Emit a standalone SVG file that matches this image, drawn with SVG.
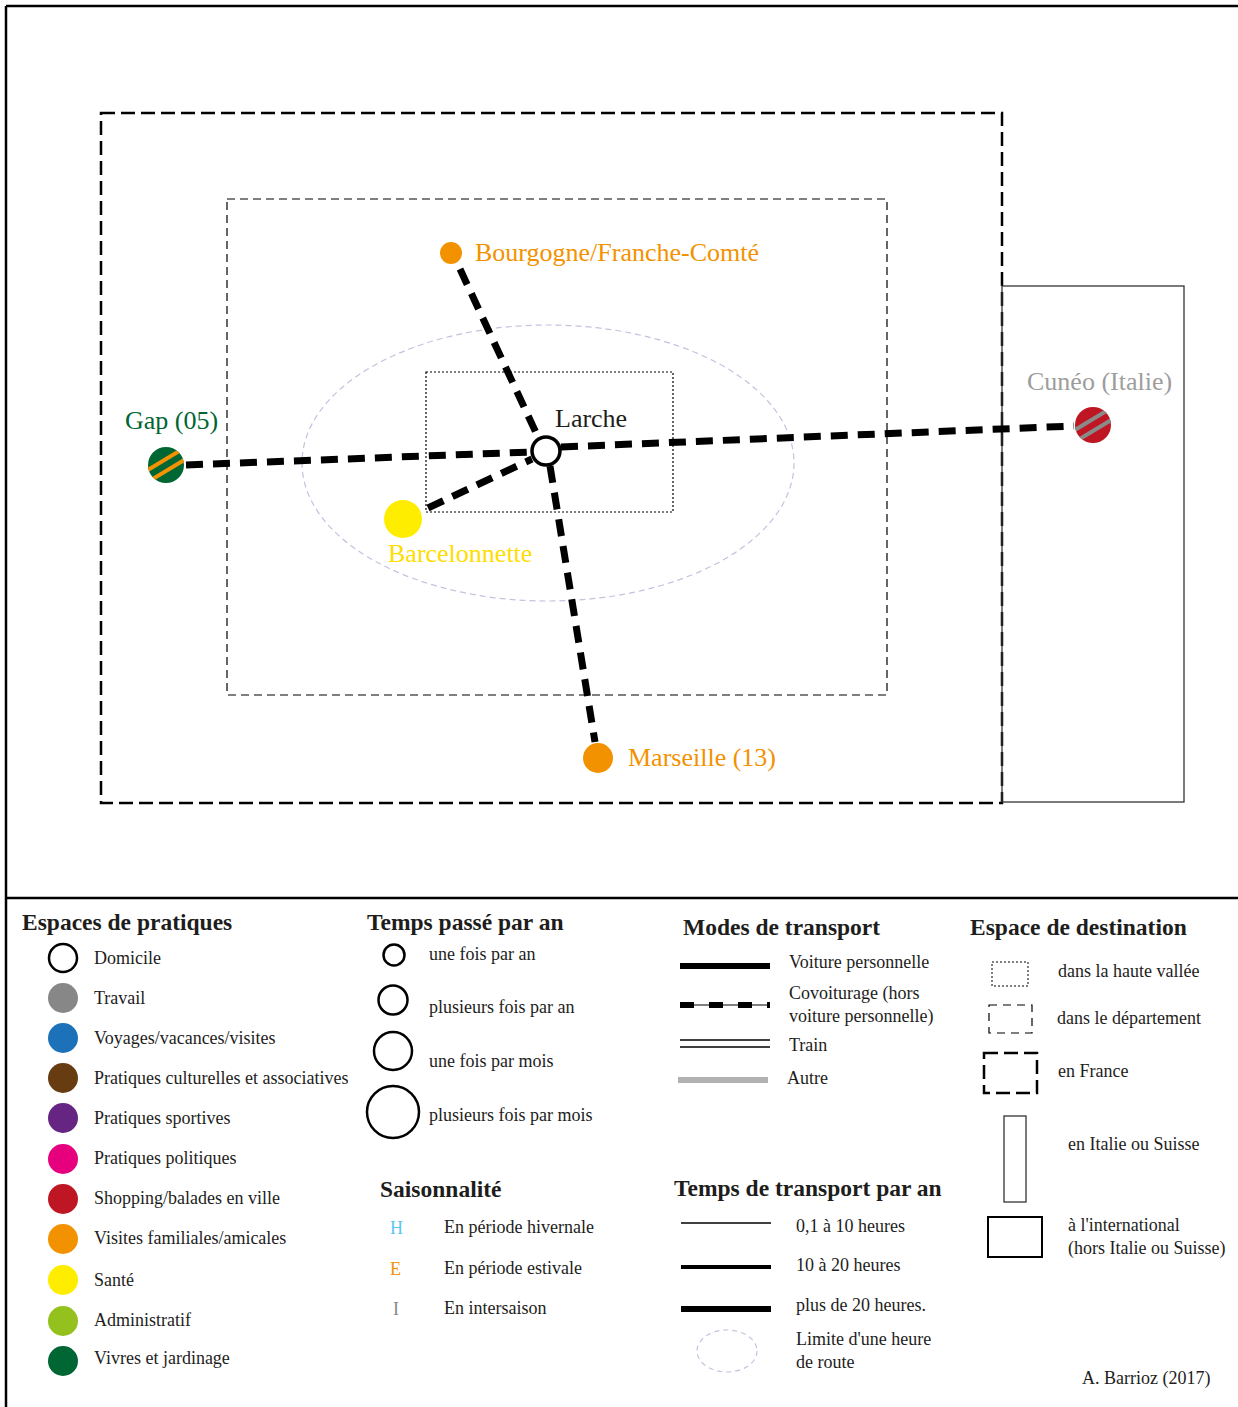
<svg xmlns="http://www.w3.org/2000/svg" width="1238" height="1407" viewBox="0 0 1238 1407">
<style>
text{font-family:"Liberation Serif","Times New Roman",serif;fill:#1d1d1b}
.lbl{font-size:26px}
.lg{font-size:18px}
.h{font-size:23.5px;font-weight:bold}
.conn{stroke:#000;stroke-width:7;stroke-dasharray:17 10;fill:none}
</style>
<defs>
<clipPath id="cGap"><circle cx="166" cy="465" r="18"/></clipPath>
<clipPath id="cCun"><circle cx="1093" cy="425" r="18"/></clipPath>
</defs>
<rect width="1238" height="1407" fill="#fff"/>
<g id="frame" stroke="#000" stroke-width="2.5" fill="none">
<line x1="6" y1="1407" x2="6" y2="6"/>
<line x1="6" y1="6" x2="1238" y2="6"/>
<line x1="6" y1="898" x2="1238" y2="898"/>
</g>
<g id="zones" fill="none">
<rect id="zone-france" x="101" y="113" width="901" height="690" stroke="#000" stroke-width="2.5" stroke-dasharray="14 6"/>
<rect id="zone-departement" x="227" y="199" width="660" height="496" stroke="#000" stroke-width="1.2" stroke-dasharray="8 5"/>
<rect id="zone-vallee" x="426" y="372" width="247" height="140" stroke="#000" stroke-width="1.2" stroke-dasharray="2 2"/>
<rect id="zone-italie" x="1002" y="286" width="182" height="516" stroke="#333" stroke-width="1.3"/>
<ellipse id="limite-heure" cx="548" cy="463" rx="246" ry="138" stroke="#c4c2df" stroke-width="1.2" stroke-dasharray="6 4"/>
</g>
<g id="connectors">
<line class="conn" x1="186" y1="465" x2="531" y2="452"/>
<line class="conn" x1="561" y1="447" x2="1074" y2="426"/>
<line class="conn" x1="460" y1="269" x2="538" y2="437"/>
<line class="conn" x1="428" y1="508" x2="532" y2="459"/>
<line class="conn" x1="550" y1="466" x2="595" y2="742"/>
</g>
<g id="node-larche">
<circle cx="546" cy="451" r="14" fill="#fff" stroke="#000" stroke-width="3.5"/>
<text class="lbl" x="555" y="427">Larche</text>
</g>
<g id="node-gap">
<circle cx="166" cy="465" r="18" fill="#006633"/>
<g clip-path="url(#cGap)" stroke="#f39200" stroke-width="4">
<line x1="140" y1="474.6" x2="190" y2="444.6"/>
<line x1="140" y1="486.6" x2="190" y2="456.6"/>
</g>
<text class="lbl" x="125" y="429" style="fill:#006633">Gap (05)</text>
</g>
<g id="node-cuneo">
<circle cx="1093" cy="425" r="18" fill="#be1622"/>
<g clip-path="url(#cCun)" stroke="#8a8a8a" stroke-width="4">
<line x1="1067" y1="434.6" x2="1117" y2="404.6"/>
<line x1="1067" y1="446.6" x2="1117" y2="416.6"/>
</g>
<text class="lbl" x="1027" y="390" style="fill:#9d9d9c">Cunéo (Italie)</text>
</g>
<g id="node-bourgogne">
<circle cx="451" cy="253" r="11" fill="#f39200"/>
<text class="lbl" x="475" y="261" style="fill:#f39200">Bourgogne/Franche-Comté</text>
</g>
<g id="node-barcelonnette">
<circle cx="403" cy="519" r="19" fill="#ffed00"/>
<text class="lbl" x="388" y="562" style="fill:#ffdd00">Barcelonnette</text>
</g>
<g id="node-marseille">
<circle cx="598" cy="758" r="15" fill="#f39200"/>
<text class="lbl" x="628" y="766" style="fill:#f39200">Marseille (13)</text>
</g>
<g id="legend-espaces">
<text class="h" x="22" y="930">Espaces de pratiques</text>
<circle cx="63" cy="958" r="14" fill="#fff" stroke="#000" stroke-width="2.5"/>
<circle cx="63" cy="998" r="15" fill="#878787"/>
<circle cx="63" cy="1038" r="15" fill="#1d71b8"/>
<circle cx="63" cy="1078" r="15" fill="#683c11"/>
<circle cx="63" cy="1118" r="15" fill="#662483"/>
<circle cx="63" cy="1159" r="15" fill="#e6007e"/>
<circle cx="63" cy="1199" r="15" fill="#be1622"/>
<circle cx="63" cy="1239" r="15" fill="#f39200"/>
<circle cx="63" cy="1280" r="15" fill="#ffed00"/>
<circle cx="63" cy="1321" r="15" fill="#95c11f"/>
<circle cx="63" cy="1361" r="15" fill="#006633"/>
<text class="lg" x="94" y="964">Domicile</text>
<text class="lg" x="94" y="1004">Travail</text>
<text class="lg" x="94" y="1044">Voyages/vacances/visites</text>
<text class="lg" x="94" y="1084">Pratiques culturelles et associatives</text>
<text class="lg" x="94" y="1124">Pratiques sportives</text>
<text class="lg" x="94" y="1164">Pratiques politiques</text>
<text class="lg" x="94" y="1204">Shopping/balades en ville</text>
<text class="lg" x="94" y="1244">Visites familiales/amicales</text>
<text class="lg" x="94" y="1286">Santé</text>
<text class="lg" x="94" y="1326">Administratif</text>
<text class="lg" x="94" y="1364">Vivres et jardinage</text>
</g>
<g id="legend-temps-passe" fill="none" stroke="#000" stroke-width="2.5">
<text class="h" x="367" y="930" stroke="none">Temps passé par an</text>
<circle cx="394" cy="955" r="10.5"/>
<circle cx="393" cy="1000" r="14.5"/>
<circle cx="393" cy="1051" r="19"/>
<circle cx="393" cy="1112" r="26"/>
<text class="lg" x="429" y="960" stroke="none">une fois par an</text>
<text class="lg" x="429" y="1013" stroke="none">plusieurs fois par an</text>
<text class="lg" x="429" y="1067" stroke="none">une fois par mois</text>
<text class="lg" x="429" y="1121" stroke="none">plusieurs fois par mois</text>
</g>
<g id="legend-saison">
<text class="h" x="380" y="1197">Saisonnalité</text>
<text class="lg" x="390" y="1234" style="fill:#5bc5f2">H</text>
<text class="lg" x="390" y="1275" style="fill:#f39200">E</text>
<text class="lg" x="393" y="1315" style="fill:#878787">I</text>
<text class="lg" x="444" y="1233">En période hivernale</text>
<text class="lg" x="444" y="1274">En période estivale</text>
<text class="lg" x="444" y="1314">En intersaison</text>
</g>
<g id="legend-modes">
<text class="h" x="683" y="935">Modes de transport</text>
<line x1="680" y1="966" x2="770" y2="966" stroke="#000" stroke-width="6"/>
<line x1="680" y1="1005" x2="770" y2="1005" stroke="#000" stroke-width="1"/>
<line x1="680" y1="1005" x2="770" y2="1005" stroke="#000" stroke-width="6" stroke-dasharray="14 15"/>
<line x1="680" y1="1040" x2="770" y2="1040" stroke="#000" stroke-width="1.3"/>
<line x1="680" y1="1047" x2="770" y2="1047" stroke="#000" stroke-width="1.3"/>
<line x1="678" y1="1080" x2="768" y2="1080" stroke="#b2b2b2" stroke-width="6"/>
<text class="lg" x="789" y="968">Voiture personnelle</text>
<text class="lg" x="789" y="999">Covoiturage (hors</text>
<text class="lg" x="789" y="1022">voiture personnelle)</text>
<text class="lg" x="789" y="1051">Train</text>
<text class="lg" x="787" y="1084">Autre</text>
</g>
<g id="legend-temps-transport">
<text class="h" x="674" y="1196">Temps de transport par an</text>
<line x1="681" y1="1223" x2="771" y2="1223" stroke="#000" stroke-width="1.3"/>
<line x1="681" y1="1267" x2="771" y2="1267" stroke="#000" stroke-width="4"/>
<line x1="681" y1="1309" x2="771" y2="1309" stroke="#000" stroke-width="6"/>
<ellipse cx="727" cy="1351" rx="30" ry="21" fill="none" stroke="#c4c2df" stroke-width="1.2" stroke-dasharray="5 4"/>
<text class="lg" x="796" y="1232">0,1 à 10 heures</text>
<text class="lg" x="796" y="1271">10 à 20 heures</text>
<text class="lg" x="796" y="1311">plus de 20 heures.</text>
<text class="lg" x="796" y="1345">Limite d'une heure</text>
<text class="lg" x="796" y="1368">de route</text>
</g>
<g id="legend-destination" fill="none">
<text class="h" x="970" y="935" stroke="none">Espace de destination</text>
<rect x="992" y="962" width="36" height="24" stroke="#000" stroke-width="1" stroke-dasharray="2 2"/>
<rect x="989" y="1005" width="43" height="28" stroke="#000" stroke-width="1.2" stroke-dasharray="8 6"/>
<rect x="984" y="1053" width="53" height="40" stroke="#000" stroke-width="2.5" stroke-dasharray="14 6"/>
<rect x="1004" y="1116" width="22" height="86" stroke="#333" stroke-width="1.3"/>
<rect x="988" y="1217" width="54" height="40" stroke="#000" stroke-width="2"/>
<text class="lg" x="1058" y="977">dans la haute vallée</text>
<text class="lg" x="1057" y="1024">dans le département</text>
<text class="lg" x="1058" y="1077">en France</text>
<text class="lg" x="1068" y="1150">en Italie ou Suisse</text>
<text class="lg" x="1068" y="1231">à l'international</text>
<text class="lg" x="1068" y="1254">(hors Italie ou Suisse)</text>
<text class="lg" x="1082" y="1384">A. Barrioz (2017)</text>
</g>
</svg>
